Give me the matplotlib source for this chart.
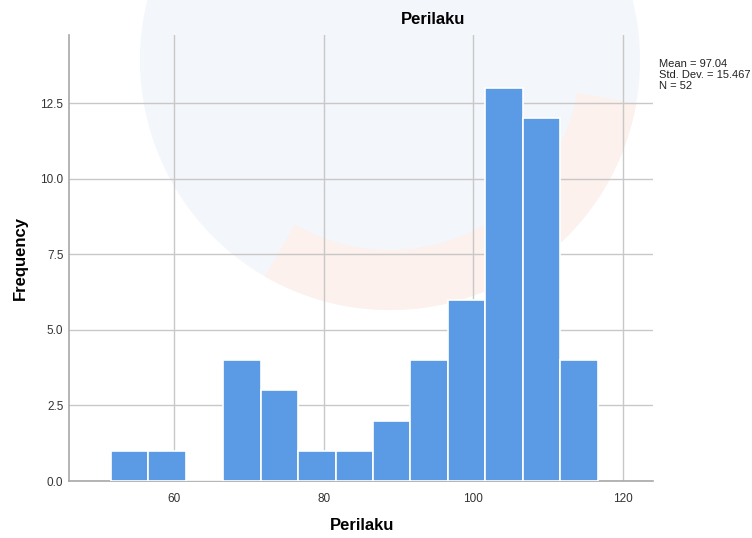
import numpy as np
import matplotlib.pyplot as plt
from matplotlib.patches import Circle, Wedge

plt.rcParams['font.family'] = ['Liberation Sans', 'DejaVu Sans']

# histogram of Perilaku (bin width 5)
bin_start = 51.6
bin_width = 5
counts = [1, 1, 0, 4, 3, 1, 1, 2, 4, 6, 13, 12, 4]
x_ticks = [60, 80, 100, 120]
y_ticks = [0.0, 2.5, 5.0, 7.5, 10.0, 12.5]
stats = ["Mean = 97.04", "Std. Dev. = 15.467", "N = 52"]

edges = bin_start + bin_width * np.arange(len(counts) + 1)

fig = plt.figure(figsize=(7.52, 5.38), dpi=100)

# very faint watermark shapes in the background
bg = fig.add_axes([0, 0, 1, 1], zorder=0)
bg.set_xlim(0, 752)
bg.set_ylim(538, 0)
bg.axis('off')
bg.add_patch(Circle((390, 60), 250, color='#f3f6fa', lw=0))
bg.add_patch(Wedge((390, 60), 250, 10, 120, width=60, color='#fcf1ec', lw=0))

ax = fig.add_axes([69 / 752, 1 - 481 / 538, (653 - 69) / 752, (481 - 35) / 538], zorder=1)
ax.patch.set_alpha(0)

ax.bar(edges[:-1], counts, width=bin_width, align='edge', color='#5b9be6',
       edgecolor='white', linewidth=1.2, zorder=3)

ax.set_xlim(46, 124)
ax.set_ylim(0, 14.75)
ax.set_xticks(x_ticks)
ax.set_yticks(y_ticks)
ax.set_yticklabels([f"{v:.1f}" for v in y_ticks])
ax.tick_params(length=0, labelsize=8.5, colors='#333333', pad=4)
ax.tick_params(axis='x', pad=9)
ax.grid(True, color='#c8c8c8', linewidth=1, zorder=1)
for s in ['top', 'right']:
    ax.spines[s].set_visible(False)
for s in ['left', 'bottom']:
    ax.spines[s].set_color('#a8a8a8')
    ax.spines[s].set_linewidth(1.2)

fig.text(362 / 752, 1 - 525 / 538, "Perilaku", fontsize=12, fontweight='bold',
         ha='center', va='center')
fig.text(20 / 752, 1 - 258 / 538, "Frequency", fontsize=12, fontweight='bold',
         ha='center', va='center', rotation=90)
fig.text(433 / 752, 1 - 20 / 538, "Perilaku", fontsize=12, fontweight='bold',
         ha='center', va='center')
fig.text(659 / 752, 1 - 59 / 538, "\n".join(stats), fontsize=8, color='#222222',
         ha='left', va='top', linespacing=1.1)

fig.savefig("out.png", dpi=100)
